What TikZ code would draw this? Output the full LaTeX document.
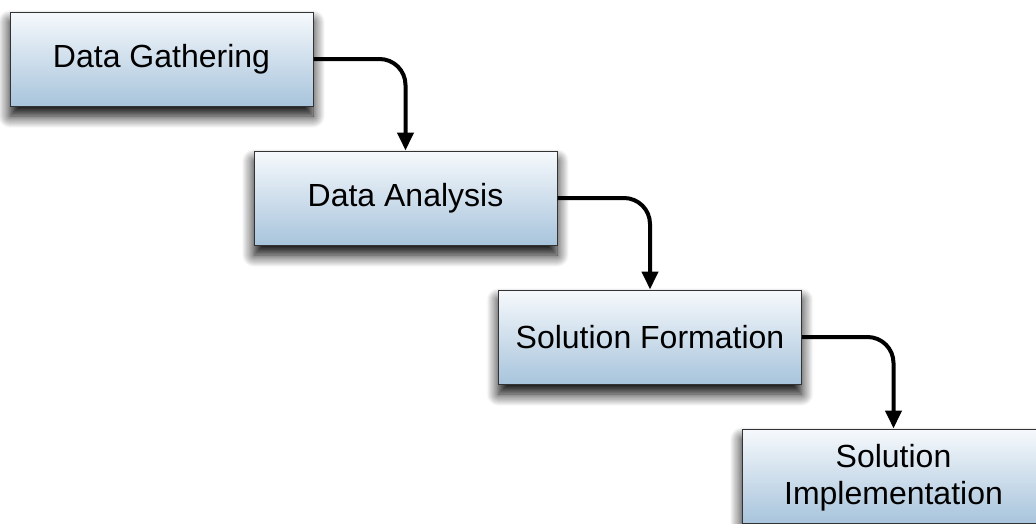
\documentclass[tikz,border=0pt]{standalone}
\usepackage{fontspec}
\setmainfont{Liberation Sans}
\usetikzlibrary{shadows.blur,arrows.meta}
\definecolor{boxtop}{HTML}{F6F9FC}
\definecolor{boxbot}{HTML}{A8C4DC}
\definecolor{boxline}{HTML}{333333}
\tikzset{
  stagebox/.style={draw=boxline, line width=1pt, rectangle,
    top color=boxtop, bottom color=boxbot,
    minimum width=303pt, minimum height=94pt, inner sep=0pt,
    align=center, font=\fontsize{32}{37}\selectfont,
    blur shadow={shadow xshift=0pt, shadow yshift=-10pt, shadow blur radius=12pt, shadow blur steps=12, shadow opacity=100}},
  flow/.style={line width=4pt, rounded corners=26pt,
    -{Triangle[width=16pt,length=18pt]}}
}
\begin{document}
\begin{tikzpicture}[x=1pt,y=-1pt]
\useasboundingbox (0,0) rectangle (1036,523);
\node[stagebox] (g) at (161.5,59) {Data Gathering};
\node[stagebox] (a) at (405.5,198) {Data Analysis};
\node[stagebox] (f) at (650,337) {Solution Formation};
\node[stagebox, text depth=4pt] (i) at (893.5,476) {Solution\\Implementation};
\draw[flow] (g.east) -| (a.north);
\draw[flow] (a.east) -| (f.north);
\draw[flow] (f.east) -| (i.north);
\end{tikzpicture}
\end{document}
